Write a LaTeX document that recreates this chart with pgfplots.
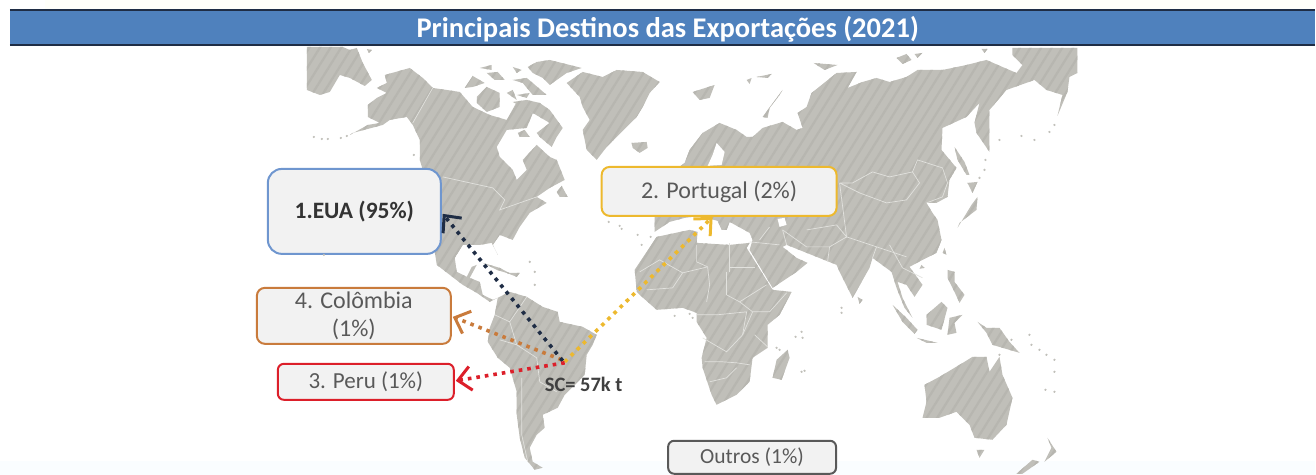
\documentclass[border=0pt]{standalone}
\usepackage{fontspec}
\setmainfont{Carlito}
\usepackage{pgfplots}
\pgfplotsset{compat=1.18}
\usetikzlibrary{arrows.meta,patterns.meta}
\definecolor{land}{HTML}{C0BFB9}
\definecolor{hatch}{HTML}{B7B6B0}
\definecolor{barblue}{HTML}{4F81BD}
\definecolor{bardark}{HTML}{1F2D45}
\definecolor{boxfill}{HTML}{F2F2F2}
\definecolor{txt}{HTML}{595959}
\definecolor{cblue}{HTML}{6F96CF}
\definecolor{cyellow}{HTML}{EDB92E}
\definecolor{corange}{HTML}{C97B3C}
\definecolor{cred}{HTML}{DC1F2A}
\definecolor{cnavy}{HTML}{1F2D45}
\definecolor{bordercol}{HTML}{E2E2DE}
\tikzset{
  landfill/.style={fill=land,draw=none,mark=none,
    postaction={pattern={Lines[angle=58,distance=9pt,line width=2.2pt]},pattern color=hatch}},
  border/.style={draw=bordercol,line width=0.7pt,mark=none},
  flow/.style={line width=3.6pt,mark=none,dash pattern=on 3.6pt off 5pt,
    -{Straight Barb[length=13pt,width=24pt,line width=3pt]}},
  lbl/.style={fill=boxfill,rounded corners=#1,line width=2pt,align=center,inner sep=0pt,
    text=txt,font=\fontsize{24}{28}\selectfont},
}
\newcommand{\landpoly}[1]{\addplot[landfill] coordinates {#1} -- cycle;}
\newcommand{\bline}[1]{\addplot[border] coordinates {#1};}
\begin{document}
\begin{tikzpicture}
\begin{axis}[
  width=1316pt,height=475pt,scale only axis,
  xmin=0,xmax=1316,ymin=0,ymax=475,y dir=reverse,
  hide axis,clip=false]

% pale strips at top and bottom of the screenshot
\addplot[fill=black!1!yellow!2!white,draw=none,mark=none] coordinates {(45,0)(1316,0)(1316,9)(45,9)} -- cycle;
\addplot[fill=cyan!2!white,draw=none,mark=none] coordinates {(0,461)(1316,461)(1316,475)(0,475)} -- cycle;

% title bar
\addplot[fill=barblue,draw=none,mark=none] coordinates {(10,10)(1316,10)(1316,45)(10,45)} -- cycle;
\addplot[bardark,line width=1.4pt,mark=none] coordinates {(10,10)(1316,10)};
\addplot[bardark,line width=1.2pt,mark=none] coordinates {(10,45)(1316,45)};

% Chukotka, wrapped round to the left edge
\landpoly{(307,47)(343,47)(350,50)(357,48)(363,63)(372,80)(365,86)(350,78)(340,75)(330,92)(320,95)(307,90)}
\landpoly{(367,49)(372,50)(369,53)}

% North and Central America
\landpoly{(350,135)(368,125)(380,123)(368,117)(368,105)(377,98)(387,93)(377,88)(387,83)(385,75)(410,68)(423,78)(433,88)(447,90)(460,92)(473,107)(490,115)(507,120)(517,102)(533,113)(527,128)(507,130)(497,147)(500,157)(513,170)(517,180)(527,170)(523,160)(537,145)(550,157)(557,160)(565,180)(550,188)(537,197)(547,203)(530,213)(520,227)(513,240)(500,235)(493,245)(498,255)(492,243)(480,245)(463,245)(455,258)(457,272)(467,277)(472,267)(477,265)(470,278)(480,282)(483,295)(493,300)(498,298)(490,302)(477,293)(463,285)(450,275)(437,265)(435,252)(432,230)(423,170)(420,160)(420,140)(413,125)(407,117)(390,120)(383,125)(353,133)}

% Arctic Canada
\landpoly{(513,102)(527,100)(540,103)(550,110)(563,128)(557,137)(552,147)(540,137)(537,133)(550,123)(533,113)}
\landpoly{(477,97)(487,87)(500,93)(500,107)(487,112)(477,103)}
\landpoly{(465,88)(473,76)(485,83)(473,87)}
\landpoly{(528,67)(537,62)(550,60)(582,68)(567,73)(550,85)(543,78)(533,73)}
\landpoly{(480,68)(492,65)(492,70)}
\landpoly{(487,73)(498,72)(505,80)(495,80)}
\landpoly{(513,67)(522,70)(517,73)}
\landpoly{(513,80)(527,78)(533,83)(547,95)(533,95)(523,83)}
\landpoly{(507,93)(513,90)(517,100)}
\landpoly{(517,95)(530,93)(527,98)}
\landpoly{(518,133)(525,130)(530,137)(520,137)}
\landpoly{(557,192)(562,186)(568,197)(560,197)}

% Greenland, Iceland, Svalbard, Arctic Russia islands
\landpoly{(567,83)(583,72)(603,77)(617,70)(643,72)(660,82)(650,93)(643,107)(637,117)(617,137)(607,147)(597,160)(587,150)(583,130)(590,120)(583,107)(580,97)}
\landpoly{(632,143)(647,142)(648,148)(640,153)(633,148)}
\landpoly{(693,92)(715,85)(710,98)(700,100)}
\landpoly{(763,117)(783,90)(780,95)(770,108)(768,118)}
\landpoly{(747,80)(752,78)(750,84)}
\landpoly{(757,77)(772,74)(768,78)}
\landpoly{(814,63)(838,65)(825,70)}
\landpoly{(897,58)(907,54)(912,60)(903,64)}
\landpoly{(915,54)(923,53)(918,58)}
\landpoly{(982,49)(988,49)(985,53)}

% Eurasia
\landpoly{(650,190)(685,163)(690,150)(703,133)(720,123)(737,130)(747,137)(753,137)(763,128)(783,122)(797,130)(803,128)(798,113)(807,107)(812,93)(837,73)(857,72)(848,88)(863,82)(877,78)(890,82)(907,77)(918,70)(943,70)(967,65)(987,60)(1003,67)(1017,73)(1023,65)(1013,55)(1013,48)(1078,48)(1078,73)(1070,77)(1068,92)(1058,116)(1063,95)(1047,90)(1035,80)(1007,90)(990,110)(990,152)(977,133)(975,123)(980,103)(967,117)(943,128)(942,150)(957,168)(950,180)(948,197)(937,203)(927,203)(933,213)(938,220)(942,240)(937,253)(923,260)(910,267)(923,285)(915,297)(907,285)(898,282)(903,298)(913,318)(905,308)(897,288)(892,272)(873,258)(870,268)(853,298)(840,272)(837,265)(817,257)(787,245)(783,247)(797,258)(808,263)(797,272)(773,288)(750,250)(753,240)(750,233)(730,222)(727,230)(722,230)(718,221)(707,218)(700,216)(685,218)(670,222)(655,232)(655,216)}
% Baltic and Black Sea
\addplot[fill=white,draw=none,mark=none] coordinates {(717,143)(725,152)(722,165)(708,166)(713,155)} -- cycle;
\addplot[fill=white,draw=none,mark=none] coordinates {(778,219)(785,218)(787,225)(780,227)} -- cycle;

% Africa and Madagascar
\landpoly{(635,270)(657,237)(690,230)(698,232)(697,243)(730,245)(750,243)(747,248)(773,290)(792,292)(780,315)(768,325)(768,348)(753,358)(750,382)(737,395)(717,405)(712,395)(703,368)(702,358)(707,338)(697,322)(697,313)(683,308)(657,310)(640,295)(637,292)}
\landpoly{(788,350)(790,358)(782,380)(773,378)(777,360)}

% South America and Caribbean
\landpoly{(498,298)(510,292)(527,297)(543,307)(558,312)(560,322)(583,327)(597,335)(593,345)(587,355)(585,375)(575,385)(565,395)(558,408)(543,415)(545,428)(537,435)(530,448)(533,462)(543,468)(535,470)(525,458)(520,438)(517,415)(517,392)(510,368)(498,358)(488,342)(490,328)(495,315)}
\landpoly{(483,263)(500,268)(513,275)(497,270)}
\landpoly{(507,273)(520,273)(517,277)}

% Japan, Sakhalin, Taiwan, Hainan
\landpoly{(978,197)(977,210)(960,223)(958,228)(972,205)}
\landpoly{(968,183)(978,182)(973,193)}
\landpoly{(955,147)(965,162)(970,175)(967,175)(958,160)}
\landpoly{(945,248)(947,255)(943,253)}
\landpoly{(922,265)(925,268)(920,269)}

% Southeast Asia and Oceania
\landpoly{(948,270)(955,272)(955,282)(965,295)(960,303)(955,292)(948,278)}
\landpoly{(858,297)(863,300)(860,304)}
\landpoly{(978,322)(987,328)(1000,328)(1010,342)(1020,353)(1003,348)(993,345)(987,333)}
\landpoly{(942,302)(948,308)(942,330)(927,325)(927,315)}
\landpoly{(893,305)(907,318)(918,330)(915,334)(903,322)}
\landpoly{(917,338)(938,343)(927,343)}
\landpoly{(950,318)(963,315)(955,323)(957,333)(948,335)}
\landpoly{(925,385)(940,377)(965,362)(973,357)(987,357)(990,372)(1000,357)(1003,375)(1013,398)(1007,425)(993,440)(975,438)(970,425)(957,412)(940,418)(923,418)(927,402)}
\landpoly{(977,450)(985,450)(980,458)}
\landpoly{(1048,438)(1057,452)(1045,462)(1052,448)}
\landpoly{(1033,460)(1040,462)(1023,474)(1017,474)}

% small islands
\addplot[only marks,mark=*,mark size=0.9pt,land,mark options={draw=none,fill=land}] coordinates {
 (314,137)(322,139)(328,139)(341,138)(347,136)(324,255)(414,155)
 (609,222)(620,226)(622,229)(638,235)(642,245)(651,237)
 (642,275)(675,316)(690,314)(693,318)(842,308)(842,313)(802,332)(803,338)(796,337)(777,348)(780,350)(802,372)(805,371)
 (1030,335)(1032,345)(1040,350)(1047,355)(1055,360)(1055,372)(1046,390)(1055,392)
 (1000,140)(1022,136)(1035,140)(1050,132)(1055,125)(986,160)(985,170)(980,178)
 (535,272)(535,285)(530,262)(1012,340)(1000,355)}; 

% country borders, Americas
\bline{(433,88)(413,123)}
\bline{(443,177)(493,188)(505,200)(500,210)(537,197)}
\bline{(510,322)(517,345)(537,358)(540,382)(557,392)}
\bline{(522,378)(522,435)(528,462)}
\bline{(495,315)(510,322)(527,297)}
\bline{(517,345)(500,340)}

% country borders, Africa
\bline{(697,245)(697,262)(708,267)}
\bline{(730,243)(730,272)}
\bline{(730,267)(755,267)}
\bline{(708,267)(710,285)(707,302)}
\bline{(727,295)(740,302)(767,285)}
\bline{(753,312)(770,312)(787,293)}
\bline{(697,315)(717,315)(747,312)(743,335)(727,352)(703,338)}
\bline{(755,335)(768,347)}
\bline{(705,362)(723,362)(737,363)(750,365)}
\bline{(710,382)(727,378)(737,368)}
\bline{(640,272)(660,260)(683,273)(673,288)(647,290)}
\bline{(683,273)(708,267)}
\bline{(727,295)(727,272)}
\bline{(740,302)(753,312)(743,335)}

% country borders, Asia
\bline{(840,183)(853,183)(873,172)(890,177)(913,172)(920,183)(907,200)(887,203)(860,193)(840,183)}
\bline{(913,172)(918,160)(943,168)(948,183)(943,197)(927,203)}
\bline{(807,230)(837,225)(847,237)(840,183)}
\bline{(770,227)(760,240)}
\bline{(783,230)(807,247)(830,247)(847,237)}
\bline{(847,237)(877,247)(907,257)}
\bline{(750,242)(780,245)}
\bline{(890,245)(903,268)(923,278)}
\bline{(830,247)(828,262)}
\bline{(873,258)(877,247)}
\bline{(787,245)(783,230)}

% labels
\node[lbl=14pt,draw=cblue,minimum width=173pt,minimum height=85pt,text=black!80,
  font=\fontsize{23.5}{28}\selectfont\bfseries] at (axis cs:354.5,211.5) {1.EUA (95\%)};
\node[lbl=8pt,draw=cyellow,minimum width=235pt,minimum height=49pt] at (axis cs:719.5,191.5) {2. Portugal (2\%)};
\node[lbl=8pt,draw=corange,minimum width=194pt,minimum height=56pt] at (axis cs:354,316) {4. Colômbia\\(1\%)};
\node[lbl=6pt,draw=cred,minimum width=176pt,minimum height=36pt,font=\fontsize{23}{28}\selectfont] at (axis cs:366,382) {3. Peru (1\%)};
\node[lbl=6pt,draw=txt,minimum width=168pt,minimum height=33pt,font=\fontsize{21.5}{25}\selectfont] at (axis cs:752.5,457.5) {Outros (1\%)};

% flows from Santa Catarina
\addplot[flow,corange] coordinates {(562,360)(453,317)};
\addplot[flow,cyellow] coordinates {(565,362)(713,217)};
\addplot[flow,cnavy] coordinates {(563,361)(443,214)};
\addplot[flow,cred] coordinates {(565,363)(456,381)};

\node[text=black!75,font=\fontsize{20.5}{24}\selectfont\bfseries,inner sep=0pt] at (axis cs:584,385) {SC= 57k t};
\node[text=white,font=\fontsize{28.5}{32}\selectfont\bfseries,inner sep=0pt] at (axis cs:668,29) {Principais Destinos das Exportações (2021)};
\end{axis}
\end{tikzpicture}
\end{document}
